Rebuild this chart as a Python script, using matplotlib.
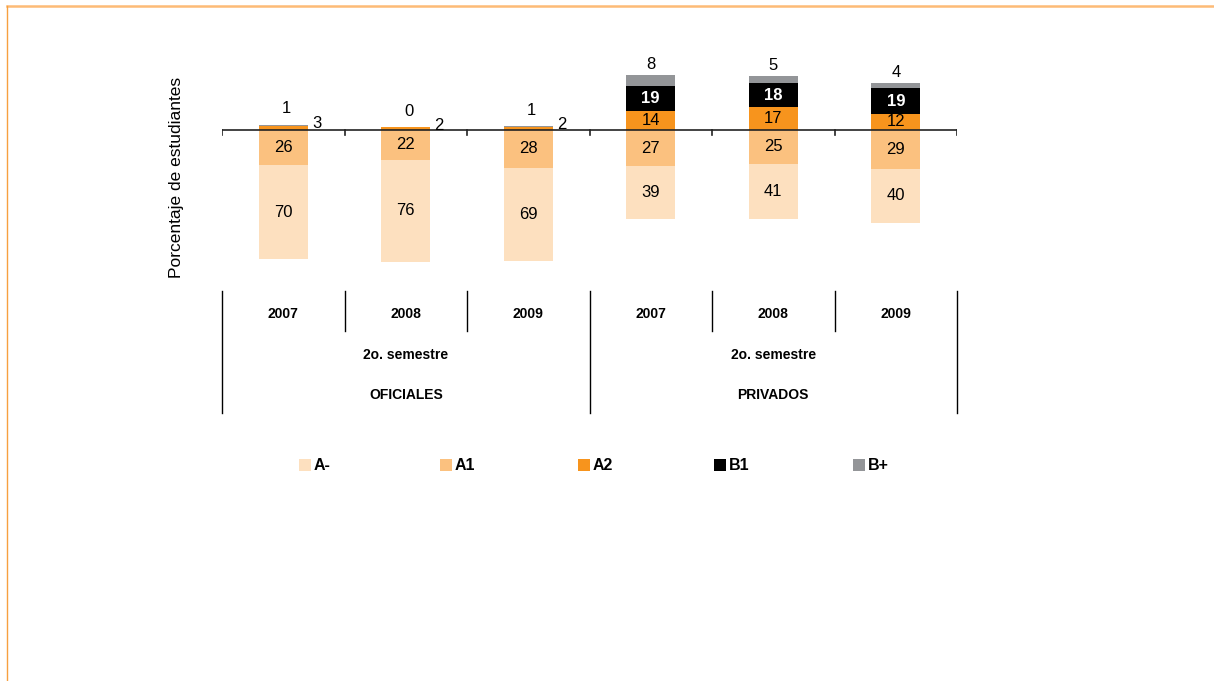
import numpy as np
import matplotlib.pyplot as plt
from matplotlib.lines import Line2D
from matplotlib.patches import Rectangle

plt.rcParams['font.family'] = ['Liberation Sans', 'DejaVu Sans']

years = ['2007', '2008', '2009', '2007', '2008', '2009']
groups = ['OFICIALES', 'PRIVADOS']
subgroup = '2o. semestre'
levels = ['A-', 'A1', 'A2', 'B1', 'B+']
colors = ['#FDE0BF', '#FBC17F', '#F7941D', '#000000', '#939598']

a_minus = [70, 76, 69, 39, 41, 40]
a1 = [26, 22, 28, 27, 25, 29]
a2 = [3, 2, 2, 14, 17, 12]
b1 = [0, 0, 0, 19, 18, 19]
b_plus = [1, 0, 1, 8, 5, 4]

W, H = 1214, 681
fig = plt.figure(figsize=(W / 100, H / 100), dpi=100)
ax = fig.add_axes([222 / W, 1 - 285 / H, (957 - 222) / W, (285 - 70) / H])

x = np.arange(len(years))
bw = 0.4
am = np.array(a_minus); a1a = np.array(a1)
p2 = np.array(a2); pb1 = np.array(b1); pbp = np.array(b_plus)

# negative side
ax.bar(x, -a1a, bw, color=colors[1])
ax.bar(x, -am, bw, bottom=-a1a, color=colors[0])
# positive side
ax.bar(x, p2, bw, color=colors[2])
ax.bar(x, pb1, bw, bottom=p2, color=colors[3])
ax.bar(x, pbp, bw, bottom=p2 + pb1, color=colors[4])

ax.set_xlim(-0.5, 5.5)
ax.set_ylim(-115.2, 44.6)

fs = 12
for i in range(len(x)):
    ax.text(x[i], -a1a[i] / 2, str(a1[i]), ha='center', va='center', fontsize=fs)
    ax.text(x[i], -a1a[i] - am[i] / 2, str(a_minus[i]), ha='center', va='center', fontsize=fs)
    top = p2[i] + pb1[i] + pbp[i]
    if p2[i] < 5:
        ax.annotate(str(a2[i]), (x[i] + bw / 2, top), xytext=(3, 1), textcoords='offset points',
                    ha='left', va='center', fontsize=fs)
        ax.annotate(str(b_plus[i]), (x[i], top), xytext=(2, 6), textcoords='offset points',
                    ha='center', va='bottom', fontsize=fs)
    else:
        ax.text(x[i], p2[i] / 2, str(a2[i]), ha='center', va='center', fontsize=fs)
        ax.text(x[i], p2[i] + pb1[i] / 2, str(b1[i]), ha='center', va='center',
                fontsize=fs, color='white', fontweight='bold')
        ax.annotate(str(b_plus[i]), (x[i], top), xytext=(0, 2), textcoords='offset points',
                    ha='center', va='bottom', fontsize=fs)

# zero line with small ticks at category edges
ax.axhline(0, color='#222222', lw=1.2)
for b in np.arange(-0.5, 6, 1):
    ax.plot([b, b], [0, -3.5], color='#222222', lw=1.2)

for s in ax.spines.values():
    s.set_visible(False)
ax.set_xticks([])
ax.set_yticks([])
ax.set_ylabel('Porcentaje de estudiantes', fontsize=12.5, labelpad=27)

# category table below the plot
trans = ax.get_xaxis_transform()
def ay(py):
    return (285 - py) / 215

for b in np.arange(-0.5, 6, 1):
    y_end = 413 if b in (-0.5, 2.5, 5.5) else 331
    ax.plot([b, b], [ay(291), ay(y_end)], transform=trans, color='black', lw=1, clip_on=False)

narrow = ['Liberation Sans Narrow', 'Liberation Sans', 'DejaVu Sans']
for i, yr in enumerate(years):
    ax.text(x[i], ay(314), yr, transform=trans, ha='center', va='center',
            fontsize=10, fontweight='bold', family=narrow)
for g, gname in enumerate(groups):
    cx = 1 + 3 * g
    ax.text(cx, ay(355), subgroup, transform=trans, ha='center', va='center',
            fontsize=10, fontweight='bold', family=narrow)
    ax.text(cx, ay(395), gname, transform=trans, ha='center', va='center',
            fontsize=10, fontweight='bold', family=narrow)

# legend, laid out by hand to match the source spacing
leg_x = [299, 440, 578, 714, 853]
for px, lab, c in zip(leg_x, levels, colors):
    fig.add_artist(Rectangle((px / W, 1 - 471 / H), 12 / W, 12 / H, facecolor=c,
                             edgecolor='none', transform=fig.transFigure))
    fig.text((px + 15) / W, 1 - 465 / H, lab, ha='left', va='center',
             fontsize=11.5, fontweight='bold')

# page border
fig.add_artist(Line2D([7 / W, 1], [1 - 6 / H, 1 - 6 / H], color='#FDBB76', lw=1.8))
fig.add_artist(Line2D([7 / W, 7 / W], [0, 1 - 6 / H], color='#F7A040', lw=1))

fig.savefig('out.png', dpi=100)
